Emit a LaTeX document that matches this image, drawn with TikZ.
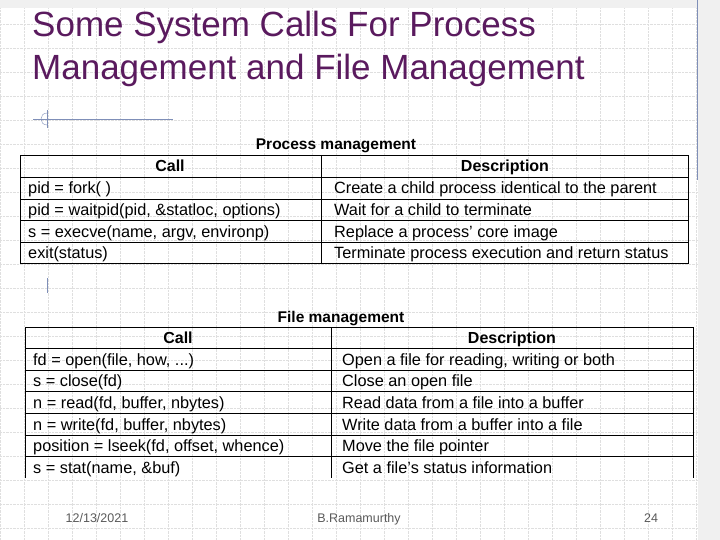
\documentclass[tikz,border=0pt]{standalone}
\usepackage{fontspec}
\setmainfont{Liberation Sans}
\definecolor{titlepurple}{HTML}{5A1A5E}
\definecolor{decoblue}{HTML}{7F8FB8}
\tikzset{
% cells and rules of the two tables
rule/.style={line width=0.9pt,black},
titletext/.style={anchor=base west,text=titlepurple,inner sep=0,font=\fontsize{35}{35}\selectfont},
headcell/.style={font=\fontsize{16}{16}\selectfont\bfseries,anchor=base,inner sep=0},
cellfont/.style={font=\fontsize{16.3}{16}\selectfont,anchor=base west,inner sep=0},
captext/.style={font=\fontsize{15.5}{15}\selectfont\bfseries,anchor=base,inner sep=0},
foot/.style={font=\fontsize{12.5}{12}\selectfont,text=gray!70!black,anchor=base,inner sep=0}
}
\begin{document}
\begin{tikzpicture}[x=1pt,y=-1pt]
  \useasboundingbox (0,0) rectangle (720,540);
  % faint background grid
  \foreach \gx in {0,24,...,720} \draw[gray!25,densely dotted] (\gx,0) -- (\gx,540);
  \foreach \gy in {0,24,...,540} \draw[gray!25,densely dotted] (0,\gy) -- (720,\gy);
  \fill[gray!12] (0,0) rectangle (720,8);
  \fill[gray!12] (698,0) rectangle (720,540);
  % slide decorations
  \draw[decoblue] (697,0) -- (697,180);
  \coordinate (decoA) at (33,119);
  \coordinate (decoB) at (173,119);
  \draw[decoblue] (decoA) -- (decoB);
  \draw[decoblue] (47,113) .. controls (39,113) and (39,125) .. (47,125);
  \draw[decoblue] (47,110) -- (47,128);
  \coordinate (tickA) at (47,278);
  \coordinate (tickB) at (47,293);
  \draw[decoblue] (tickA) -- (tickB);
  % title
  \node[titletext] (title1) at (32,37) {Some System Calls For Process};
  \node[titletext] (title2) at (32,80) {Management and File Management};
  % process management table
  \node[captext] (pcap) at (336,150) {Process management};
  \draw[rule] (20,155) rectangle (688,263);
  \draw[rule] (321,155) -- (321,263);
  \foreach \ry in {177,199,220,242} \draw[rule] (20,\ry) -- (688,\ry);
  \node[headcell] (pcall) at (170,172) {Call};
  \node[headcell] (pdesc) at (505,172) {Description};
  \foreach \ry/\ca/\de [count=\i] in {
      194/{pid = fork( )}/{Create a child process identical to the parent},
      215.5/{pid = waitpid(pid, \&statloc, options)}/{Wait for a child to terminate},
      237/{s = execve(name, argv, environp)}/{Replace a process' core image},
      258.5/{exit(status)}/{Terminate process execution and return status}} {
    \node[cellfont] (pc\i) at (28,\ry) {\ca};
    \node[cellfont] (pd\i) at (334,\ry) {\de};
  }
  % file management table
  \node[captext] (fcap) at (341,322) {File management};
  \draw[rule] (25,478) -- (25,327) -- (693,327) -- (693,478);
  \draw[rule] (331,327) -- (331,478);
  \foreach \ry in {348,370,391,413,435,456} \draw[rule] (25,\ry) -- (693,\ry);
  \node[headcell] (fcall) at (178,343) {Call};
  \node[headcell] (fdesc) at (512,343) {Description};
  \foreach \ry/\ca/\de [count=\i] in {
      365/{fd = open(file, how, ...)}/{Open a file for reading, writing or both},
      386.5/{s = close(fd)}/{Close an open file},
      408/{n = read(fd, buffer, nbytes)}/{Read data from a file into a buffer},
      430/{n = write(fd, buffer, nbytes)}/{Write data from a buffer into a file},
      451.5/{position = lseek(fd, offset, whence)}/{Move the file pointer},
      473/{s = stat(name, \&buf)}/{Get a file's status information}} {
    \node[cellfont] (fc\i) at (33,\ry) {\ca};
    \node[cellfont] (fd\i) at (342,\ry) {\de};
  }
  % footer
  \node[foot] (date) at (97,522) {12/13/2021};
  \node[foot] (author) at (359,522) {B.Ramamurthy};
  \node[foot] (page) at (651,522) {24};
\end{tikzpicture}
\end{document}
